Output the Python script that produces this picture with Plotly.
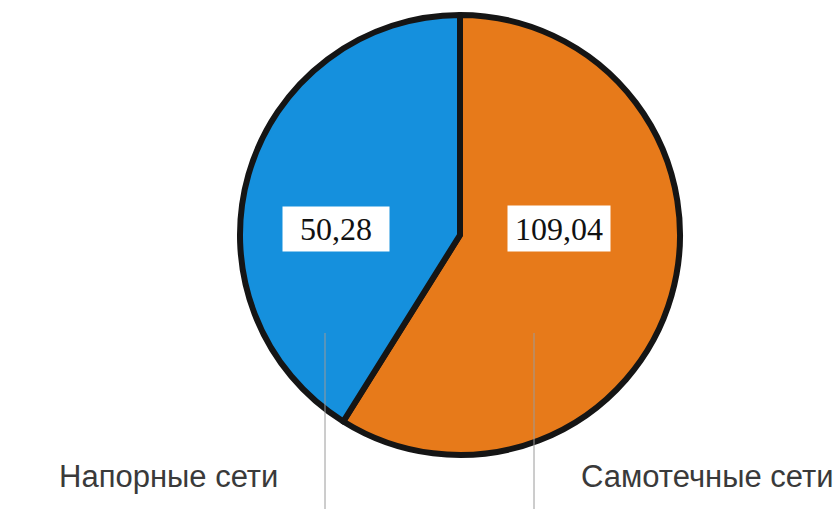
import plotly.graph_objects as go

# Data (orange slice first, drawn clockwise from 12 o'clock)
categories = ["Самотечные сети", "Напорные сети"]
value_labels = ["109,04", "50,28"]          # numbers printed in the boxes
slice_share_pct = [58.9, 41.1]              # slice sizes as drawn in the picture
colors = ["#E77A1A", "#1590DD"]

W, H = 840, 509
cx, cy, r = 460, 235, 220  # pie center / radius in pixels


def px(x):
    return x / W


def py(y):
    return 1 - y / H


fig = go.Figure(
    go.Pie(
        labels=categories,
        values=slice_share_pct,
        sort=False,
        direction="clockwise",
        rotation=0,
        textinfo="none",
        hoverinfo="label+percent",
        marker=dict(colors=colors, line=dict(color="#151515", width=6)),
        domain=dict(x=[px(cx - r), px(cx + r)], y=[py(cy + r), py(cy - r)]),
        showlegend=False,
    )
)

# value boxes
box_pos = [(559, 228, 102, 45), (336, 229, 106, 44)]
for txt, (bx, by, bw, bh) in zip(value_labels, box_pos):
    fig.add_annotation(
        x=px(bx), y=py(by), xref="paper", yref="paper",
        text=txt, showarrow=False, width=bw, height=bh,
        bgcolor="white", borderpad=0, align="center", valign="middle",
        font=dict(family="Liberation Serif", size=32, color="#111111"),
    )

# leader lines
for lx in (325, 534):
    fig.add_shape(type="line", xref="paper", yref="paper",
                  x0=px(lx), x1=px(lx), y0=py(333), y1=py(509),
                  line=dict(color="#9a9a9a", width=1))

# category labels
cat_pos = [(579, 476), (57, 476)]
for txt, (tx, ty) in zip(categories, cat_pos):
    fig.add_annotation(
        x=px(tx), y=py(ty), xref="paper", yref="paper",
        text=txt, showarrow=False, xanchor="left", yanchor="middle",
        font=dict(family="Liberation Sans", size=31, color="#3a3a3a"),
    )

fig.update_layout(
    width=W, height=H,
    margin=dict(l=0, r=0, t=0, b=0),
    paper_bgcolor="white", plot_bgcolor="white",
)

fig.write_html("out.html")
